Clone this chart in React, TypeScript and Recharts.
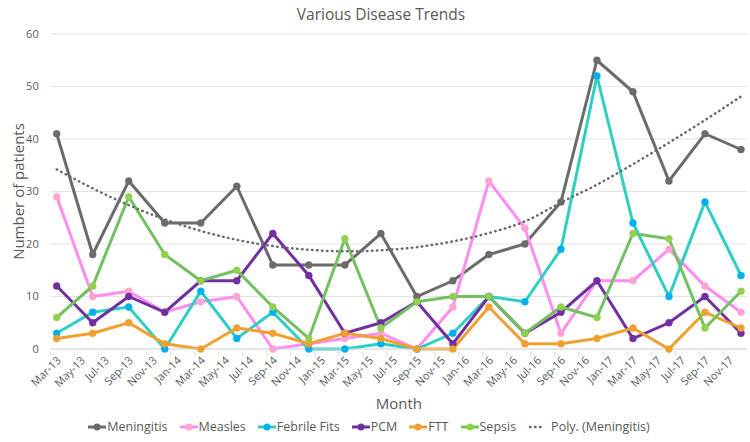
import { LineChart, Line, XAxis, YAxis, CartesianGrid } from 'recharts'

const monthNames = ['Jan', 'Feb', 'Mar', 'Apr', 'May', 'Jun', 'Jul', 'Aug', 'Sep', 'Oct', 'Nov', 'Dec']

// quarterly observations
const quarters = [
  'Mar-13', 'Jun-13', 'Sep-13', 'Dec-13', 'Mar-14', 'Jun-14', 'Sep-14', 'Dec-14', 'Mar-15', 'Jun-15',
  'Sep-15', 'Dec-15', 'Mar-16', 'Jun-16', 'Sep-16', 'Dec-16', 'Mar-17', 'Jun-17', 'Sep-17', 'Dec-17',
]
const meningitis = [41, 18, 32, 24, 24, 31, 16, 16, 16, 22, 10, 13, 18, 20, 28, 55, 49, 32, 41, 38]
const measles = [29, 10, 11, 7, 9, 10, 0, 1, 2, 3, 0, 8, 32, 23, 3, 13, 13, 19, 12, 7]
const febrileFits = [3, 7, 8, 0, 11, 2, 7, 0, 0, 1, 0, 3, 10, 9, 19, 52, 24, 10, 28, 14]
const pcm = [12, 5, 10, 7, 13, 13, 22, 14, 3, 5, 9, 1, 10, 3, 7, 13, 2, 5, 10, 3]
const ftt = [2, 3, 5, 1, 0, 4, 3, 1, 3, 2, 0, 0, 8, 1, 1, 2, 4, 0, 7, 4]
const sepsis = [6, 12, 29, 18, 13, 15, 8, 2, 21, 4, 9, 10, 10, 3, 8, 6, 22, 21, 4, 11]
// poly. trendline of meningitis
const meningitisTrend = [34.2, 30.6, 27.4, 24.7, 22.5, 20.8, 19.6, 18.9, 18.6, 18.8, 19.4, 20.5, 22.1, 24.3, 27.9, 31.3, 35.2, 39.3, 43.6, 48.1]

const tickLabels = [
  'Mar-13', 'May-13', 'Jul-13', 'Sep-13', 'Nov-13', 'Jan-14', 'Mar-14', 'May-14', 'Jul-14', 'Sep-14',
  'Nov-14', 'Jan-15', 'Mar-15', 'May-15', 'Jul-15', 'Sep-15', 'Nov-15', 'Jan-16', 'Mar-16', 'May-16',
  'Jul-16', 'Sep-16', 'Nov-16', 'Jan-17', 'Mar-17', 'May-17', 'Jul-17', 'Sep-17', 'Nov-17',
]
const yTicks = [0, 10, 20, 30, 40, 50, 60]

// months since Mar-13, centred in the month
const monthPos = (label: string) => {
  const [m, y] = label.split('-')
  return (Number(y) - 13) * 12 + monthNames.indexOf(m) - 2 + 0.5
}

const data = quarters.map((q, i) => ({
  x: monthPos(q),
  Meningitis: meningitis[i],
  Measles: measles[i],
  'Febrile Fits': febrileFits[i],
  PCM: pcm[i],
  FTT: ftt[i],
  Sepsis: sepsis[i],
  trend: meningitisTrend[i],
}))

const series = [
  { key: 'Meningitis', line: '#6b6b6b', dot: '#6b6b6b' },
  { key: 'Measles', line: '#ff8cf2', dot: '#ffa3d2' },
  { key: 'Febrile Fits', line: '#2ecfc2', dot: '#00b0f0' },
  { key: 'PCM', line: '#7030a0', dot: '#7030a0' },
  { key: 'FTT', line: '#f0a030', dot: '#f0a030' },
  { key: 'Sepsis', line: '#72c062', dot: '#92d050' },
]

const W = 750
const H = 442
const margin = { top: 34, right: 3, left: 0.7, bottom: 33 }
const yAxisWidth = 50
const plotW = W - margin.left - margin.right - yAxisWidth
const halfMonth = plotW / 58 / 2
const font = '"Open Sans", sans-serif'
const textColor = '#595959'

const XTick = ({ x, y, payload }: any) => {
  const label = tickLabels[Math.round((payload.value - 0.5) / 2)]
  return (
    <g>
      <line x1={x - halfMonth} x2={x - halfMonth} y1={y} y2={y + 5} stroke="#d9d9d9" />
      <text
        x={x + 3}
        y={y + 8}
        textAnchor="end"
        dominantBaseline="middle"
        transform={`rotate(-45, ${x + 3}, ${y + 8})`}
        fontSize={11}
        fontFamily={font}
        fill={textColor}
      >
        {label}
      </text>
    </g>
  )
}

const LegendIcon = ({ color, dot, dotted }: { color: string; dot?: string; dotted?: boolean }) => (
  <svg width={18} height={10} style={{ marginRight: 1 }}>
    {dotted ? (
      <line x1={2} x2={16} y1={5} y2={5} stroke="#6b6b6b" strokeWidth={2.5} strokeDasharray="0.5 4.5" strokeLinecap="round" />
    ) : (
      <>
        <line x1={0} x2={18} y1={5} y2={5} stroke={color} strokeWidth={3} />
        <circle cx={9} cy={5} r={3.5} fill={dot} />
      </>
    )}
  </svg>
)

export default function App() {
  return (
    <div style={{ position: 'absolute', left: 0, top: 0, width: W, height: H, background: '#fff', fontFamily: font }}>
      <div style={{ position: 'absolute', top: 3, left: 6, width: W, textAlign: 'center', fontSize: 15.5, color: textColor }}>
        Various Disease Trends
      </div>
      <LineChart width={W} height={H} data={data} margin={margin}>
        <CartesianGrid vertical={false} stroke="#e3e3e3" />
        <XAxis
          dataKey="x"
          type="number"
          domain={[0, 58]}
          ticks={tickLabels.map((_, i) => i * 2 + 0.5)}
          interval={0}
          tick={<XTick />}
          tickSize={0}
          tickLine={false}
          axisLine={{ stroke: '#d9d9d9' }}
          height={60}
          label={{ value: 'Month', position: 'insideBottom', offset: 0, fontSize: 15, fill: textColor, fontFamily: font }}
        />
        <YAxis
          domain={[0, 60]}
          ticks={yTicks}
          width={yAxisWidth}
          axisLine={false}
          tickLine={false}
          tickMargin={6}
          tick={{ fontSize: 11, fill: textColor, fontFamily: font }}
          label={{ value: 'Number of patients', angle: -90, position: 'insideLeft', offset: 18, fontSize: 15, fill: textColor, fontFamily: font, style: { textAnchor: 'middle' } }}
        />
        {series.map((s) => (
          <Line
            key={s.key}
            dataKey={s.key}
            stroke={s.line}
            strokeWidth={3}
            dot={{ r: 3.5, fill: s.dot, stroke: s.dot, strokeWidth: 0.5 }}
            activeDot={false}
            isAnimationActive={false}
          />
        ))}
        <Line
          dataKey="trend"
          type="monotone"
          stroke="#6b6b6b"
          strokeWidth={2.5}
          strokeDasharray="0.5 4.5"
          strokeLinecap="round"
          dot={false}
          activeDot={false}
          isAnimationActive={false}
        />
      </LineChart>
      <div
        style={{
          position: 'absolute',
          top: 418,
          left: 0,
          width: W - 12,
          display: 'flex',
          justifyContent: 'center',
          gap: 12,
          fontSize: 12.5,
          color: textColor,
        }}
      >
        {series.map((s) => (
          <span key={s.key} style={{ display: 'flex', alignItems: 'center' }}>
            <LegendIcon color={s.line} dot={s.dot} />
            {s.key}
          </span>
        ))}
        <span style={{ display: 'flex', alignItems: 'center' }}>
          <LegendIcon color="#6b6b6b" dotted />
          <span style={{ marginLeft: 4 }}>Poly. (Meningitis)</span>
        </span>
      </div>
    </div>
  )
}
